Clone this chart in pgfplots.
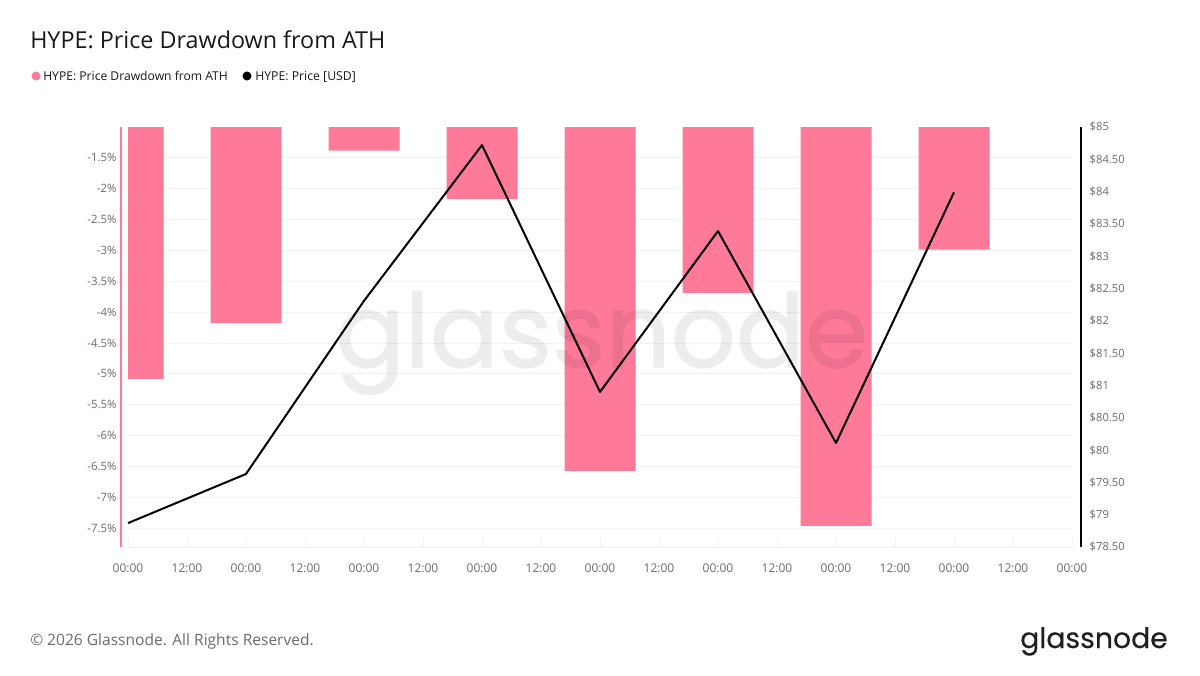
\documentclass[border=0pt]{standalone}
\usepackage{pgfplots}
\usepackage{fontspec}
\pgfplotsset{compat=1.18}
\setmainfont{Open Sans}
\newfontfamily\logofont{Poppins}[FakeBold=0.3]
\newfontfamily\wmfont{Poppins}[FakeBold=1.3]
\definecolor{hpink}{HTML}{FF7A99}
\definecolor{tickgray}{HTML}{6B6B6B}
\definecolor{gridgray}{HTML}{F2F2F2}
\newcommand\px[2]{({#1*0.75pt},{-#2*0.75pt})}
\begin{document}
\begin{tikzpicture}
\path \px{0}{0} rectangle \px{1200}{675};
\begin{axis}[
  at={(96pt,-410.25pt)}, anchor=south west, scale only axis,
  width=708pt, height=315pt,
  xmin=0, xmax=8, ymin=-7.80, ymax=-1.007,
  axis y line*=left, axis x line*=bottom,
  y axis line style={draw=none},
  x axis line style={draw=gridgray, line width=0.75pt, -},
  xtick={0,0.5,...,8},
  xticklabels={00:00,12:00,00:00,12:00,00:00,12:00,00:00,12:00,00:00,12:00,00:00,12:00,00:00,12:00,00:00,12:00,00:00},
  ytick={-7.5,-7,-6.5,-6,-5.5,-5,-4.5,-4,-3.5,-3,-2.5,-2,-1.5},
  yticklabels={-7.5\%,-7\%,-6.5\%,-6\%,-5.5\%,-5\%,-4.5\%,-4\%,-3.5\%,-3\%,-2.5\%,-2\%,-1.5\%},
  ymajorgrids, grid style={draw=gridgray, line width=0.6pt},
  tick style={draw=gridgray, line width=0.75pt},
  major tick length=7.5pt,
  ytick style={draw=none},
  tick label style={text=tickgray},
  yticklabel style={font=\fontsize{8.6}{11}\selectfont, xshift=-5pt},
  xticklabel style={font=\fontsize{9}{11}\selectfont, yshift=-9pt},
  clip=true,
]
\addplot[ybar, fill=hpink, draw=none, bar width=53.25pt, bar shift=0pt] coordinates {
 (0,-5.08) (1,-4.18) (2,-1.39) (3,-2.17) (4,-6.57) (5,-3.69) (6,-7.46) (7,-2.99)};
\end{axis}
\begin{scope}[transparency group, opacity=0.07]
\node[anchor=base, text=black, inner sep=0pt, font=\wmfont\fontsize{76.5}{90}\selectfont] at \px{602}{367} {glassnode};
\end{scope}
\begin{axis}[
  at={(96pt,-410.25pt)}, anchor=south west, scale only axis,
  width=708pt, height=315pt,
  xmin=0, xmax=8, ymin=78.5, ymax=85,
  axis y line*=right, axis x line=none,
  y axis line style={draw=black, line width=1.5pt, -, xshift=6.5pt},
  ytick={78.5,79,...,85},
  yticklabels={\$78.50,\$79,\$79.50,\$80,\$80.50,\$81,\$81.50,\$82,\$82.50,\$83,\$83.50,\$84,\$84.50,\$85},
  ytick style={draw=none},
  yticklabel style={font=\fontsize{8.4}{11}\selectfont, text=tickgray, xshift=9.75pt, anchor=west},
  clip=false,
]
\draw[hpink, line width=1.5pt, xshift=-5.25pt] (rel axis cs:0,0) -- (rel axis cs:0,1);
\addplot[black, line width=1.5pt, line join=round] coordinates {
 (0,78.87) (1,79.63) (2,82.31) (3,84.72) (4,80.90) (5,83.39) (6,80.11) (7,83.99)};
\end{axis}
\node[anchor=base west, inner sep=0pt, text=black!90, font=\fontsize{17.5}{21}\selectfont] at \px{30}{48} {HYPE: Price Drawdown from ATH};
\fill[hpink] \px{36}{76} circle (3.4pt);
\node[anchor=base west, inner sep=0pt, text=black!90, font=\fontsize{9.1}{11}\selectfont] at \px{43}{80} {HYPE: Price Drawdown from ATH};
\fill[black] \px{247}{76} circle (3.4pt);
\node[anchor=base west, inner sep=0pt, text=black!90, font=\fontsize{9.2}{11}\selectfont] at \px{255}{80} {HYPE: Price [USD]};
\node[anchor=base west, inner sep=0pt, text=tickgray, font=\fontsize{11.67}{14}\selectfont] at \px{30}{645} {© 2026 Glassnode. All Rights Reserved.};
\node[anchor=base east, inner sep=0pt, text=black!88, font=\logofont\fontsize{21.2}{26}\selectfont] at \px{1168}{648} {glassnode};
\end{tikzpicture}
\end{document}
